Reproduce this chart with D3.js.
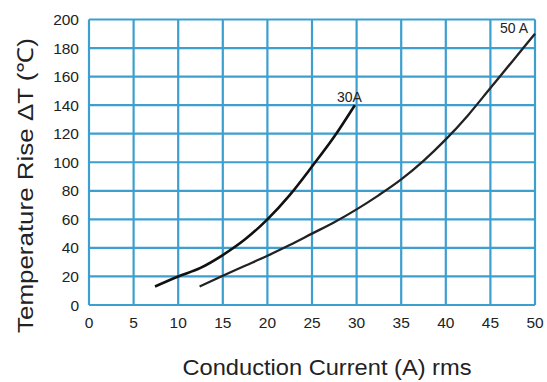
<!DOCTYPE html>
<html><head><meta charset="utf-8">
<script src="https://cdn.jsdelivr.net/npm/d3@7"></script>
<style>body{margin:0;background:#fff}svg{display:block}text{font-family:"Liberation Sans",Arial,sans-serif;fill:#222}</style>
</head><body><svg id="c" width="547" height="382"></svg>
<script>
const xTicks = [0,5,10,15,20,25,30,35,40,45,50];
const yTicks = [0,20,40,60,80,100,120,140,160,180,200];
const series30X = [7.4,10,12.5,15,17.5,20,22.5,25,27.5,29.8];
const series30Y = [13,20,26,35,46,60,77,97,118,140];
const series50X = [12.4,15,17.5,20,22.5,25,27.5,30,32.5,35,37.5,40,42.5,45,47.5,50];
const series50Y = [13,20.5,27.5,34.5,42,50,58,67,77,88,101,116,133,152,171,190];
const seriesNames = ["30A","50 A"];

const svg = d3.select("#c");
const x = d3.scaleLinear().domain([0,50]).range([89,535]);
const y = d3.scaleLinear().domain([0,200]).range([305,19.5]);
const grid = "#3c9fd0";

svg.append("g").selectAll("line").data(xTicks).join("line")
  .attr("x1",d=>x(d)).attr("x2",d=>x(d)).attr("y1",y(0)).attr("y2",y(200))
  .attr("stroke",grid).attr("stroke-width",2.2);
svg.append("g").selectAll("line").data(yTicks).join("line")
  .attr("y1",d=>y(d)).attr("y2",d=>y(d)).attr("x1",x(0)).attr("x2",x(50))
  .attr("stroke",grid).attr("stroke-width",2.2);

svg.append("g").selectAll("text").data(yTicks).join("text")
  .attr("x",79).attr("y",d=>y(d)+5.5).attr("text-anchor","end")
  .attr("font-size",15.5).text(d=>d);
svg.append("g").selectAll("text").data(xTicks).join("text")
  .attr("x",d=>x(d)).attr("y",327.5).attr("text-anchor","middle")
  .attr("font-size",15.5).text(d=>d);

const line = d3.line().x(d=>x(d[0])).y(d=>y(d[1])).curve(d3.curveMonotoneX);
const d30 = series30X.map((v,i)=>[v,series30Y[i]]);
const d50 = series50X.map((v,i)=>[v,series50Y[i]]);
svg.append("path").attr("d",line(d30)).attr("fill","none").attr("stroke","#111").attr("stroke-width",2.6);
svg.append("path").attr("d",line(d50)).attr("fill","none").attr("stroke","#222").attr("stroke-width",2.3);

svg.append("text").attr("x",337).attr("y",102).attr("font-size",14).text(seriesNames[0]);
svg.append("text").attr("x",500).attr("y",33).attr("font-size",14).text(seriesNames[1]);

svg.append("text").attr("x",327).attr("y",375).attr("text-anchor","middle").attr("font-size",22.5)
  .attr("textLength",289).attr("lengthAdjust","spacingAndGlyphs").text("Conduction Current (A) rms");
svg.append("text").attr("transform","translate(33,185.5) rotate(-90)").attr("text-anchor","middle").attr("font-size",22)
  .attr("textLength",295).attr("lengthAdjust","spacingAndGlyphs").text("Temperature Rise ΔT (℃)");
</script></body></html>
